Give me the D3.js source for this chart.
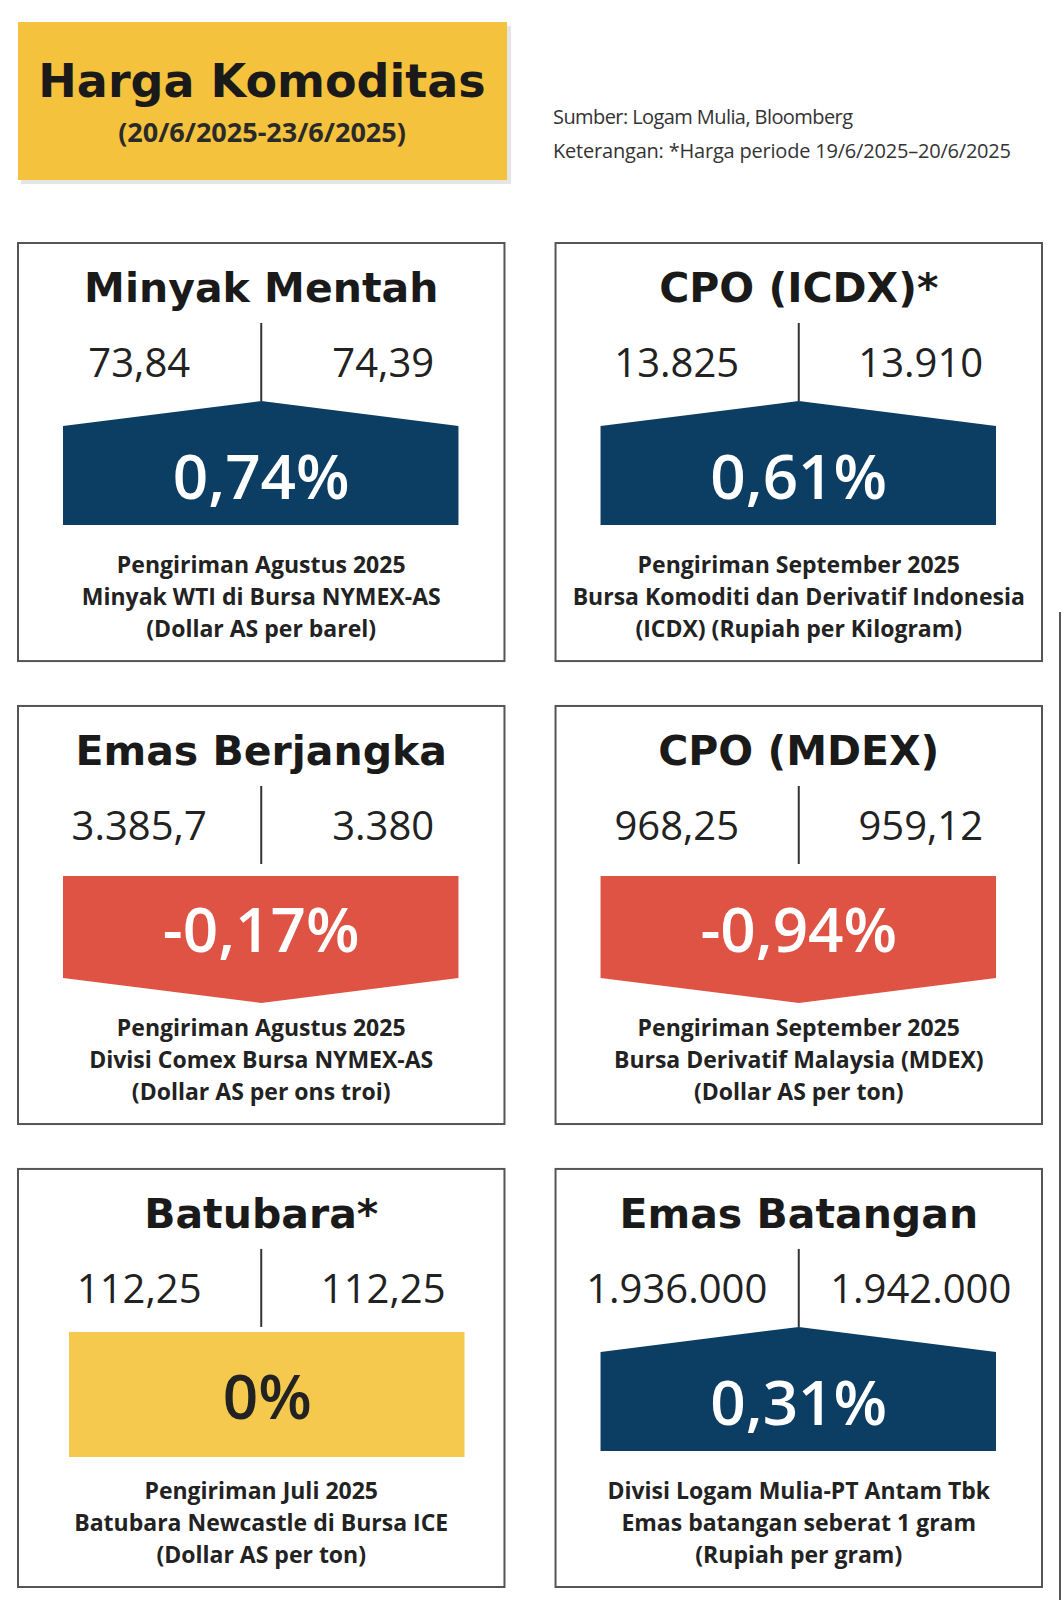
<!DOCTYPE html>
<html><head><meta charset="utf-8">
<script src="https://cdn.jsdelivr.net/npm/d3@7"></script>
<style>body{margin:0;background:#fff}</style>
</head><body>
<svg width="1064" height="1600"></svg>
<script>
const titles = ["Minyak Mentah", "CPO (ICDX)*", "Emas Berjangka", "CPO (MDEX)", "Batubara*", "Emas Batangan"]
const prevValues = ["73,84", "13.825", "3.385,7", "968,25", "112,25", "1.936.000"]
const currValues = ["74,39", "13.910", "3.380", "959,12", "112,25", "1.942.000"]
const changes = [0.74, 0.61, -0.17, -0.94, 0, 0.31]
const changeLabels = ["0,74%", "0,61%", "-0,17%", "-0,94%", "0%", "0,31%"]
const notes = [
  ["Pengiriman Agustus 2025", "Minyak WTI di Bursa NYMEX-AS", "(Dollar AS per barel)"],
  ["Pengiriman September 2025", "Bursa Komoditi dan Derivatif Indonesia", "(ICDX) (Rupiah per Kilogram)"],
  ["Pengiriman Agustus 2025", "Divisi Comex Bursa NYMEX-AS", "(Dollar AS per ons troi)"],
  ["Pengiriman September 2025", "Bursa Derivatif Malaysia (MDEX)", "(Dollar AS per ton)"],
  ["Pengiriman Juli 2025", "Batubara Newcastle di Bursa ICE", "(Dollar AS per ton)"],
  ["Divisi Logam Mulia-PT Antam Tbk", "Emas batangan seberat 1 gram", "(Rupiah per gram)"]
]

const svg = d3.select("svg")
const heavy = "'DejaVu Sans', sans-serif"
const cond = "'Liberation Sans Narrow', 'Open Sans', sans-serif"

// header
svg.append("rect").attr("x", 21).attr("y", 26).attr("width", 490).attr("height", 158).attr("fill", "#ccc").attr("opacity", 0.5)
svg.append("rect").attr("x", 18).attr("y", 22).attr("width", 489).attr("height", 158).attr("fill", "#f4c23c")
svg.append("text").attr("x", 262).attr("y", 97).attr("text-anchor", "middle")
  .attr("font-family", heavy).attr("font-weight", 900).attr("font-size", 46).attr("fill", "#1a1a1a")
  .text("Harga Komoditas")
svg.append("text").attr("x", 262).attr("y", 142).attr("text-anchor", "middle")
  .attr("font-family", "'Open Sans', sans-serif").attr("font-weight", 700).attr("font-size", 27).attr("fill", "#2a2a2a")
  .text("(20/6/2025-23/6/2025)")
svg.append("text").attr("x", 553).attr("y", 124).attr("font-family", cond).attr("font-size", 20).attr("fill", "#333")
  .attr("textLength", 300).text("Sumber: Logam Mulia, Bloomberg")
svg.append("text").attr("x", 553).attr("y", 158).attr("font-family", cond).attr("font-size", 20).attr("fill", "#333")
  .attr("textLength", 458).text("Keterangan: *Harga periode 19/6/2025–20/6/2025")

svg.append("line").attr("x1", 1060).attr("x2", 1060).attr("y1", 612).attr("y2", 1600).attr("stroke", "#555").attr("stroke-width", 2)

const col = d3.scaleBand().domain([0, 1]).range([18, 1042]).paddingInner(0.095)
const row = d3.scaleBand().domain([0, 1, 2]).range([243, 1587]).paddingInner(0.097)
const color = v => v > 0 ? "#0c3d63" : v < 0 ? "#de5343" : "#f5c84e"

const panels = svg.selectAll("g.panel").data(titles).join("g")
  .attr("class", "panel")
  .attr("transform", (d, i) => `translate(${col(i % 2)},${row(Math.floor(i / 2))})`)

const w = col.bandwidth(), h = row.bandwidth()
panels.append("rect").attr("width", w).attr("height", h).attr("fill", "#fff").attr("stroke", "#555").attr("stroke-width", 2)
panels.append("text").attr("x", w / 2).attr("y", 59).attr("text-anchor", "middle")
  .attr("font-family", heavy).attr("font-weight", 900).attr("font-size", 41).attr("fill", "#1a1a1a")
  .text(d => d)
panels.append("line").attr("x1", w / 2).attr("x2", w / 2).attr("y1", 80).attr("y2", 158).attr("stroke", "#333").attr("stroke-width", 2)
panels.append("text").attr("x", w / 2 - 122).attr("y", 134).attr("text-anchor", "middle")
  .attr("font-family", "'Open Sans', sans-serif").attr("font-size", 40).attr("fill", "#222")
  .text((d, i) => prevValues[i])
panels.append("text").attr("x", w / 2 + 122).attr("y", 134).attr("text-anchor", "middle")
  .attr("font-family", "'Open Sans', sans-serif").attr("font-size", 40).attr("fill", "#222")
  .text((d, i) => currValues[i])

const L = 45, R = w - 46
panels.append("path")
  .attr("fill", (d, i) => color(changes[i]))
  .attr("d", (d, i) => {
    const v = changes[i]
    if (v > 0) return `M${L},183L${w / 2},158L${R},183L${R},282L${L},282Z`
    if (v < 0) return `M${L},170L${R},170L${R},272L${w / 2},297L${L},272Z`
    return `M${L + 6},163L${R + 6},163L${R + 6},288L${L + 6},288Z`
  })
panels.append("text").attr("x", (d, i) => w / 2 + (changes[i] === 0 ? 6 : 0))
  .attr("y", (d, i) => changes[i] > 0 ? 256 : changes[i] < 0 ? 246 : 250)
  .attr("text-anchor", "middle")
  .attr("font-family", "'Open Sans', sans-serif").attr("font-weight", 600).attr("font-size", 62)
  .attr("fill", (d, i) => changes[i] === 0 ? "#222" : "#fff")
  .text((d, i) => changeLabels[i])

panels.each(function (d, i) {
  d3.select(this).selectAll("text.note").data(notes[i]).join("text")
    .attr("class", "note").attr("x", w / 2).attr("y", (n, j) => 330 + j * 32)
    .attr("text-anchor", "middle").attr("font-family", cond).attr("font-weight", 700)
    .attr("font-size", 23).attr("fill", "#222").text(n => n)
})
</script>
</body></html>
